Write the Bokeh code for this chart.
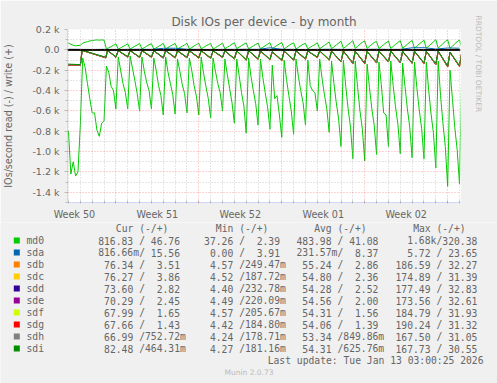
import math
from bokeh.plotting import figure
from bokeh.layouts import column
from bokeh.models import FixedTicker, Grid, Span, Range1d, Title
from bokeh.core.properties import value
from bokeh.embed import file_html
from bokeh.resources import INLINE

# ---------------- data (IOs/second; read negative, write positive) ----------------
# md0 samples every 0.2 day starting 4.2 days before Mon 15 Dec 2025 00:00
MD0_T0_DAYS = -4.2
MD0_STEP_DAYS = 0.2
md0_read = [
    -950, -800, -1220, -1100, -1240, -1200, -740, -80, -170, -330, -480,
    -620, -620, -790, -850, -720, -700, -160, -220, -360, -400,
    -580, -70, -200, -330, -420,
    -580, -60, -180, -300, -430,
    -600, -70, -210, -320, -400,
    -580, -80, -200, -350, -450,
    -640, -70, -220, -330, -440,
    -630, -90, -210, -340, -430,
    -620, -80, -200, -350, -460,
    -640, -70, -230, -360, -480,
    -670, -80, -210, -330, -420,
    -600, -90, -240, -380, -520,
    -720, -90, -250, -420, -550,
    -820, -80, -260, -400, -530,
    -740, -90, -270, -420, -560,
    -780, -150, -480, -450, -640,
    -860, -100, -290, -450, -600,
    -830, -90, -260, -400, -520,
    -740, -100, -350, -400, -420,
    -600, -90, -280, -440, -580,
    -810, -110, -330, -520, -680,
    -950, -100, -360, -580, -760,
    -1070, -110, -370, -600, -780,
    -1090, -140, -370, -580, -740,
    -1030, -120, -340, -620, -640,
    -950, -110, -350, -560, -730,
    -1020, -130, -360, -580, -760,
    -1060, -120, -370, -590, -770,
    -1070, -120, -400, -630, -820,
    -1160, -110, -450, -720, -950,
    -1340, -200, -480, -760, -980,
    -1320, -120,
]
md0_write = [
    68, 65, 55, 45, 40, 42, 45, 65, 75, 80, 88,
    90, 95, 98, 95, 98, 95, 10, 20, 32, 45,
    58, 8, 20, 33, 45,
    60, 8, 22, 35, 48,
    62, 10, 22, 36, 50,
    60, 8, 20, 34, 47,
    63, 9, 23, 37, 50,
    62, 10, 22, 36, 49,
    65, 9, 22, 38, 52,
    64, 10, 24, 38, 52,
    62, 8, 21, 36, 50,
    66, 10, 25, 40, 55,
    70, 12, 26, 42, 56,
    68, 10, 24, 40, 54,
    66, 11, 25, 40, 55,
    70, 12, 28, 44, 58,
    72, 10, 26, 42, 58,
    68, 9, 24, 40, 55,
    62, 10, 26, 40, 52,
    70, 11, 27, 44, 60,
    78, 12, 30, 48, 65,
    85, 14, 32, 52, 70,
    90, 15, 34, 55, 74,
    88, 14, 33, 54, 72,
    82, 13, 31, 52, 70,
    86, 14, 33, 54, 72,
    90, 15, 34, 56, 75,
    92, 15, 35, 57, 76,
    95, 16, 36, 58, 78,
    100, 17, 38, 62, 82,
    98, 16, 36, 60, 80,
    96, 20,
]

# member disks: early samples (days), then a trough at each midnight and a
# near-idle value 0.2 day later
sd_early_t = [-4.2, -4.05, -3.0, -2.85, -0.85, -0.7]
sd_idle = [-8, -7, -8, -9, -8, -10, -9, -8, -9, -10, -10, -9, -10, -18, -12,
           -10, -12, -10, -13, -12, -13, -16, -14, -13, -15, -14, -14, -13, -24, -14]
sd_early = {
    "sdb": [-102, -150, -154, -5, -80, -6],
    "sdc": [-101, -149, -153, -5, -79, -6],
    "sdd": [-98, -145, -149, -5, -76, -6],
    "sde": [-100, -148, -152, -5, -78, -6],
    "sdf": [-97, -144, -148, -5, -75, -6],
    "sdg": [-99, -147, -151, -5, -78, -6],
    "sdh": [-98, -146, -150, -5, -77, -6],
    "sdi": [-95, -140, -145, -4, -72, -5],
}
sd_trough = {
    "sdb": [-74, -70, -76, -71, -80, -82, -76, -80, -85, -74, -92, -104, -93, -99, -108,
            -105, -94, -76, -102, -121, -136, -138, -131, -120, -128, -134, -136, -147, -170, -167],
    "sdc": [-73, -72, -78, -73, -79, -80, -78, -82, -86, -76, -91, -103, -95, -98, -110,
            -106, -93, -77, -103, -120, -135, -137, -130, -121, -129, -133, -135, -146, -168, -166],
    "sdd": [-70, -69, -73, -70, -77, -76, -74, -78, -81, -72, -88, -99, -89, -94, -104,
            -101, -89, -73, -98, -116, -131, -133, -125, -116, -124, -128, -131, -141, -163, -161],
    "sde": [-72, -73, -75, -72, -83, -79, -77, -81, -84, -76, -90, -101, -92, -97, -107,
            -103, -92, -75, -100, -118, -134, -135, -128, -119, -127, -132, -133, -144, -167, -164],
    "sdf": [-69, -68, -72, -69, -76, -75, -73, -77, -80, -71, -87, -98, -88, -93, -103,
            -100, -88, -72, -97, -115, -130, -132, -124, -115, -123, -127, -130, -140, -162, -160],
    "sdg": [-71, -71, -74, -74, -78, -78, -79, -79, -83, -75, -89, -100, -91, -96, -106,
            -104, -91, -74, -101, -117, -133, -136, -129, -118, -126, -131, -134, -145, -166, -165],
    "sdh": [-70, -70, -73, -70, -77, -77, -75, -78, -82, -73, -88, -99, -90, -95, -104,
            -102, -90, -73, -99, -116, -131, -134, -126, -117, -125, -129, -132, -143, -164, -162],
    "sdi": [-68, -66, -70, -68, -75, -74, -72, -75, -78, -70, -85, -96, -86, -92, -100,
            -98, -86, -70, -95, -112, -126, -128, -120, -112, -120, -124, -126, -136, -158, -155],
}
# writes of member disks, every 3 days from day -4
sd_write = {
    "sdb": [3, 3, 2, 3, 3, 2, 3, 3, 3, 3, 3, 4],
    "sdc": [2, 3, 2, 2, 3, 2, 2, 3, 2, 2, 3, 4],
    "sdd": [3, 2, 3, 2, 3, 2, 3, 2, 3, 2, 3, 3],
    "sde": [2, 2, 2, 2, 2, 2, 2, 2, 2, 2, 2, 2],
    "sdf": [2, 1, 2, 1, 2, 1, 2, 1, 2, 1, 2, 2],
    "sdg": [1, 1, 2, 1, 1, 2, 1, 1, 2, 1, 1, 1],
    "sdh": [1, 1, 1, 1, 1, 1, 1, 1, 1, 1, 1, 1],
    "sdi": [1, 0.5, 1, 0.5, 1, 0.5, 1, 0.5, 1, 0.5, 1, 0.5],
}
sda_read = [-0.3, -0.2, -0.2, -0.3, -0.2, -0.2, -0.3, -0.2, -0.2, -0.3, -0.2, -0.8]
# sda writes, daily from day -4 to day 29
sda_write = [6, 5, 4, 5, 4, 5, 6, 5, 15, 16, 6, 5, 4, 5, 5, 6, 5, 20,
             6, 5, 4, 5, 6, 5, 5, 5, 6, 5, 5, 20, 21, 8, 18, 16]

devices = ["md0", "sda", "sdb", "sdc", "sdd", "sde", "sdf", "sdg", "sdh", "sdi"]
colors = ["#00CC00", "#0066B3", "#FF8000", "#FFCC00", "#330099", "#990099",
          "#CCFF00", "#FF0000", "#808080", "#008F00"]
legend_cur = ["816.83 / 46.76 ", "816.66m/ 15.56 ", " 76.34 /  3.51 ", " 76.27 /  3.86 ",
              " 73.60 /  2.82 ", " 70.29 /  2.45 ", " 67.99 /  1.65 ", " 67.66 /  1.43 ",
              " 66.99 /752.72m", " 82.48 /464.31m"]
legend_min = [" 37.26 /  2.39 ", "  0.00 /  3.91 ", "  4.57 /249.47m", "  4.52 /187.72m",
              "  4.40 /232.78m", "  4.49 /220.09m", "  4.57 /205.67m", "  4.42 /184.80m",
              "  4.24 /178.71m", "  4.27 /181.16m"]
legend_avg = ["483.98 / 41.08 ", "231.57m/  8.37 ", " 55.24 /  2.86 ", " 54.80 /  2.36 ",
              " 54.28 /  2.52 ", " 54.56 /  2.00 ", " 54.31 /  1.56 ", " 54.06 /  1.39 ",
              " 53.34 /849.86m", " 54.31 /625.76m"]
legend_max = ["  1.68k/320.38 ", "  5.72 / 23.65 ", "186.59 / 32.27 ", "174.89 / 31.39 ",
              "177.49 / 32.83 ", "173.56 / 32.61 ", "184.79 / 31.93 ", "190.24 / 31.32 ",
              "167.50 / 31.05 ", "167.73 / 30.55 "]
legend_headers = ["Cur (-/+)", "Min (-/+)", "Avg (-/+)", "Max (-/+)"]
week_labels = ["Week 50", "Week 51", "Week 52", "Week 01", "Week 02"]
week_label_days = [-3.5, 3.5, 10.5, 17.5, 24.5]
week_start_days = [0, 7, 14, 21, 28]
y_tick_values = [200, 0, -200, -400, -600, -800, -1000, -1200, -1400]
y_tick_labels = ["0.2 k", "0.0", "-0.2 k", "-0.4 k", "-0.6 k", "-0.8 k", "-1.0 k", "-1.2 k", "-1.4 k"]
title_text = "Disk IOs per device - by month"
ylabel_text = "IOs/second read (-) / write (+)"
last_update = "Last update: Tue Jan 13 03:00:25 2026"
footer = "Munin 2.0.73"
watermark = "RRDTOOL / TOBI OETIKER"

# ---------------- layout ----------------
W, H = 497, 383
H1 = 222                      # chart figure height
FL, FR, FT, FB = 67, 32, 29, H1 - 203
FONT = "#666666"
BG = "#F0F0F0"
HOURS = 24.0

md0_t = [(MD0_T0_DAYS + MD0_STEP_DAYS * i) * HOURS for i in range(len(md0_read))]
sd_t = [d * HOURS for d in sd_early_t]
for d in range(len(sd_idle)):
    sd_t += [d * HOURS, (d + 0.2) * HOURS]
w3_t = [(-4 + 3 * i) * HOURS for i in range(12)]
day_t = [(-4 + i) * HOURS for i in range(len(sda_write))]

p = figure(width=W, height=H1, output_backend="svg", toolbar_location=None,
           x_range=Range1d(-4.083 * HOURS, 29.083 * HOURS), y_range=Range1d(-1500, 200),
           min_border_left=FL, min_border_right=FR, min_border_top=FT, min_border_bottom=FB)
p.frame_align = False
p.background_fill_color = "#FFFFFF"
p.border_fill_color = BG
p.outline_line_color = None
p.xgrid.visible = False
p.ygrid.visible = False

p.title.text = title_text
p.title.align = "center"
p.title.text_font = "DejaVu Sans"
p.title.text_font_size = "12px"
p.title.text_font_style = "normal"
p.title.text_color = FONT
p.title.standoff = 2

wm = Title(text=watermark, align="left", text_font="DejaVu Sans", text_font_size="7.5px",
           text_font_style="normal", text_color="#BBBBBB", text_line_height=0.6,
           standoff=26, offset=-14)
p.add_layout(wm, "right")

# series
p.line(md0_t, md0_read, line_color=colors[0], line_width=1)
p.line(md0_t, md0_write, line_color=colors[0], line_width=1)
p.line(w3_t, sda_read, line_color=colors[1], line_width=1)
p.line(day_t, sda_write, line_color=colors[1], line_width=1)
for name, col in zip(devices[2:], colors[2:]):
    vals = list(sd_early[name])
    for tr, idle in zip(sd_trough[name], sd_idle):
        vals += [tr, idle]
    p.line(sd_t, vals, line_color=col, line_width=1)
    p.line(w3_t, sd_write[name], line_color=col, line_width=1)

p.add_layout(Span(location=0, dimension="width", line_color="#000000", line_width=1.6))

# grids drawn on top like rrdtool
day_lines = [d * HOURS for d in range(-4, 30) if d % 7 != 0]
gx = Grid(dimension=0, ticker=FixedTicker(ticks=[d * HOURS for d in week_start_days], minor_ticks=day_lines),
          grid_line_color="#FF0000", grid_line_alpha=0.35, grid_line_dash="1 2",
          minor_grid_line_color="#AAAAAA", minor_grid_line_alpha=0.6, minor_grid_line_dash="1 2",
          level="overlay")
y_minor = [v for v in range(-1500, 201, 100) if v % 200 != 0]
gy = Grid(dimension=1, ticker=FixedTicker(ticks=y_tick_values, minor_ticks=y_minor),
          grid_line_color="#FF0000", grid_line_alpha=0.35, grid_line_dash="1 2",
          minor_grid_line_color="#AAAAAA", minor_grid_line_alpha=0.6, minor_grid_line_dash="1 2",
          level="overlay")
p.add_layout(gx)
p.add_layout(gy)

# axes
ax = p.xaxis[0]
ax.ticker = FixedTicker(ticks=[d * HOURS for d in week_label_days],
                        minor_ticks=[d * HOURS for d in range(-4, 30)])
ax.major_label_overrides = {int(d * HOURS): l for d, l in zip(week_label_days, week_labels)}
ax.major_tick_line_color = None
ax.major_tick_in = 0
ax.major_tick_out = 0
ax.minor_tick_line_color = "#BBBBBB"
ax.minor_tick_in = 2
ax.minor_tick_out = 1
ax.axis_line_color = "#CFD6F8"
ax.major_label_standoff = 5
ax.major_label_text_font = "DejaVu Sans"
ax.major_label_text_font_size = "9.6px"
ax.major_label_text_color = FONT

ay = p.yaxis[0]
ay.ticker = FixedTicker(ticks=y_tick_values, minor_ticks=y_minor)
ay.major_label_overrides = {v: l for v, l in zip(y_tick_values, y_tick_labels)}
ay.major_tick_in = 0
ay.major_tick_out = 3
ay.minor_tick_in = 0
ay.minor_tick_out = 2
ay.major_tick_line_color = "#BBBBBB"
ay.minor_tick_line_color = "#BBBBBB"
ay.axis_line_color = "#CFD6F8"
ay.major_label_standoff = 5
ay.major_label_text_font = "DejaVu Sans"
ay.major_label_text_font_size = "9.5px"
ay.major_label_text_color = FONT
ay.axis_label = ylabel_text
ay.axis_label_text_font = "DejaVu Sans"
ay.axis_label_text_font_size = "9.6px"
ay.axis_label_text_font_style = "normal"
ay.axis_label_text_color = FONT
ay.axis_label_standoff = 15

# ---------------- legend board (pixel coordinates) ----------------
H2 = H - H1
q = figure(width=W, height=H2, output_backend="svg", toolbar_location=None, title=None,
           x_range=Range1d(0, W), y_range=Range1d(H, H1),
           x_axis_type=None, y_axis_type=None, min_border=0)
q.frame_align = False
q.background_fill_color = BG
q.border_fill_color = BG
q.outline_line_color = None
q.grid.visible = False

MONO = "DejaVu Sans Mono"
MSIZE = "9.7px"
CW = 5.85
block_x = [97.7, 197.7, 296.0, 395.0]
row_y0, row_dy = 240.0, 12.0
header_y = 227.5

tx, ty, tt = [], [], []
def put(text, x, y):
    tx.append(x); ty.append(y); tt.append(text)

def put_block(s, bx, cy):
    left, right = s[:7], s[8:]
    put(left.strip(), bx + (len(left) - len(left.lstrip())) * CW, cy)
    put("/", bx + 7 * CW, cy)
    put(right.strip(), bx + (8 + len(right) - len(right.lstrip())) * CW, cy)

sw_x, sw_y, sw_c = [], [], []
for i, (name, col) in enumerate(zip(devices, colors)):
    cy = row_y0 + i * row_dy
    sw_x.append(16.3); sw_y.append(cy); sw_c.append(col)
    put(name, 26.0, cy)
    for bx, col_vals in zip(block_x, [legend_cur, legend_min, legend_avg, legend_max]):
        put_block(col_vals[i], bx, cy)

q.rect(x=sw_x, y=sw_y, width=6, height=6, fill_color=sw_c, line_color=None)
q.text(x=tx, y=ty, text=tt, text_font=value(MONO), text_font_size=value(MSIZE),
       text_color=FONT, text_align="left", text_baseline="middle")
q.text(x=[bx + 7.5 * CW for bx in block_x], y=[header_y] * 4, text=legend_headers,
       text_font=value(MONO), text_font_size=value(MSIZE), text_color=FONT,
       text_align="center", text_baseline="middle")
q.text(x=[483.0], y=[row_y0 + 10 * row_dy], text=[last_update], text_font=value(MONO),
       text_font_size=value(MSIZE), text_color=FONT, text_align="right", text_baseline="middle")
q.text(x=[248.5], y=[372.0], text=[footer], text_font=value("DejaVu Sans"),
       text_font_size=value("7.5px"), text_color="#BBBBBB", text_align="center",
       text_baseline="middle")

open("out.html", "w").write(file_html(column(p, q, spacing=0), INLINE))
